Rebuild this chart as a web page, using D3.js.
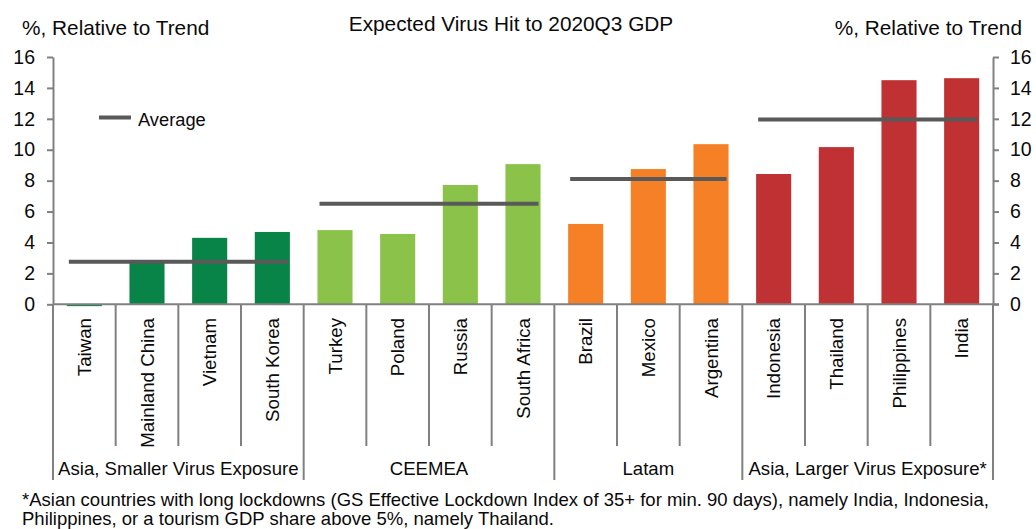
<!DOCTYPE html>
<html>
<head>
<meta charset="utf-8">
<script src="https://cdn.jsdelivr.net/npm/d3@7"></script>
<style>
  html, body { margin: 0; padding: 0; background: #fff; }
  svg { display: block; font-family: "Liberation Sans", Arial, sans-serif; }
</style>
</head>
<body>
<main></main>
<script>
(function () {

    // data
    var countries = ["Taiwan", "Mainland China", "Vietnam", "South Korea",
                     "Turkey", "Poland", "Russia", "South Africa",
                     "Brazil", "Mexico", "Argentina",
                     "Indonesia", "Thailand", "Philippines", "India"];
    var hits = [-0.12, 2.7, 4.3, 4.68, 4.8, 4.55, 7.72, 9.07,
                5.2, 8.75, 10.36, 8.43, 10.17, 14.5, 14.63];
    var groupNames = ["Asia, Smaller Virus Exposure", "CEEMEA", "Latam",
                      "Asia, Larger Virus Exposure*"];
    var groupSizes = [4, 4, 3, 4];
    var groupAverages = [2.75, 6.5, 8.1, 11.95];
    var groupColors = ["#098448", "#8bc34a", "#f58025", "#bf3133"];
    var yTicks = [0, 2, 4, 6, 8, 10, 12, 14, 16];
    var footnote = ["*Asian countries with long lockdowns (GS Effective Lockdown Index of 35+ for min. 90 days), namely India, Indonesia,",
                    "Philippines, or a tourism GDP share above 5%, namely Thailand."];

    var width = 1036, height = 529,
        margin = {top: 57, right: 43, bottom: 224, left: 53};

    var svg = d3.select("main")
            .append("svg")
            .attr("width", width)
            .attr("height", height);

    var axisColor = "#808080",
        ink = "#0a0a0a";

    // which group each country belongs to
    var groupOf = [], starts = [], s = 0;
    groupSizes.forEach(function (n, g) {
        starts.push(s);
        for (var i = 0; i < n; i++) groupOf.push(g);
        s += n;
    });

    var x = d3.scaleBand()
            .domain(countries)
            .range([margin.left, width - margin.right])
            .padding(0),
        y = d3.scaleLinear()
            .domain([0, 16])
            .range([304.3, margin.top]);

    var bw = x.bandwidth() * 0.56;

    // bars
    svg.append("g").selectAll("rect")
        .data(countries)
        .enter().append("rect")
        .attr("x", function (d) { return x(d) + (x.bandwidth() - bw) / 2; })
        .attr("y", function (d, i) { return y(Math.max(0, hits[i])); })
        .attr("width", bw)
        .attr("height", function (d, i) { return Math.abs(y(hits[i]) - y(0)); })
        .attr("fill", function (d, i) { return groupColors[groupOf[i]]; });

    // average lines
    svg.append("g").selectAll("line")
        .data(groupAverages)
        .enter().append("line")
        .attr("x1", function (d, g) { return x(countries[starts[g]]) + x.bandwidth() / 2 - 15.5; })
        .attr("x2", function (d, g) {
            return x(countries[starts[g] + groupSizes[g] - 1]) + x.bandwidth() / 2 + 15.5;
        })
        .attr("y1", function (d) { return y(d); })
        .attr("y2", function (d) { return y(d); })
        .attr("stroke", "#595959")
        .attr("stroke-width", 4);

    // y axes
    var left = svg.append("g")
            .attr("transform", "translate(" + margin.left + ",0)")
            .call(d3.axisLeft(y).tickValues(yTicks).tickSize(6).tickSizeOuter(0).tickPadding(12));
    var right = svg.append("g")
            .attr("transform", "translate(" + (width - margin.right) + ",0)")
            .call(d3.axisRight(y).tickValues(yTicks).tickSize(6).tickSizeOuter(0).tickPadding(11));
    [left, right].forEach(function (a) {
        a.select(".domain").attr("stroke", axisColor).attr("stroke-width", 2);
        a.selectAll(".tick line").attr("stroke", axisColor).attr("stroke-width", 2);
        a.selectAll(".tick text")
            .attr("fill", ink)
            .style("font-size", "19.5px")
            .style("font-family", "'Liberation Sans', Arial, sans-serif");
    });

    // x axis baseline
    svg.append("line")
        .attr("x1", margin.left).attr("x2", width - margin.right + 6)
        .attr("y1", y(0)).attr("y2", y(0))
        .attr("stroke", axisColor).attr("stroke-width", 2);

    // category dividers
    var edges = d3.range(countries.length + 1);
    var groupEdges = [0];
    groupSizes.reduce(function (acc, n) { groupEdges.push(acc + n); return acc + n; }, 0);
    svg.append("g").selectAll("line")
        .data(edges)
        .enter().append("line")
        .attr("x1", function (i) { return margin.left + i * x.step(); })
        .attr("x2", function (i) { return margin.left + i * x.step(); })
        .attr("y1", y(0))
        .attr("y2", function (i) { return groupEdges.indexOf(i) >= 0 ? 480 : 446; })
        .attr("stroke", axisColor)
        .attr("stroke-width", 2);

    // category labels
    svg.append("g").selectAll("text")
        .data(countries)
        .enter().append("text")
        .attr("transform", function (d) {
            return "translate(" + (x(d) + x.bandwidth() / 2) + ",318) rotate(-90)";
        })
        .attr("dy", "0.35em")
        .attr("text-anchor", "end")
        .style("font-size", "18.7px")
        .attr("fill", ink)
        .text(function (d) { return d; });

    // group labels
    svg.append("g").selectAll("text")
        .data(groupNames)
        .enter().append("text")
        .attr("x", function (d, g) {
            return margin.left + (starts[g] + groupSizes[g] / 2) * x.step();
        })
        .attr("y", 475)
        .attr("text-anchor", "middle")
        .style("font-size", "18.6px")
        .attr("fill", ink)
        .text(function (d) { return d; });

    // titles
    svg.append("text")
        .attr("x", 511).attr("y", 31)
        .attr("text-anchor", "middle")
        .style("font-size", "20.8px")
        .attr("fill", ink)
        .text("Expected Virus Hit to 2020Q3 GDP");
    svg.append("text")
        .attr("x", 22).attr("y", 35)
        .style("font-size", "20.8px")
        .attr("fill", ink)
        .text("%, Relative to Trend");
    svg.append("text")
        .attr("x", 1022).attr("y", 35)
        .attr("text-anchor", "end")
        .style("font-size", "20.8px")
        .attr("fill", ink)
        .text("%, Relative to Trend");

    // legend
    svg.append("line")
        .attr("x1", 99).attr("x2", 131)
        .attr("y1", 117.5).attr("y2", 117.5)
        .attr("stroke", "#595959").attr("stroke-width", 4);
    svg.append("text")
        .attr("x", 138).attr("y", 125.5)
        .style("font-size", "18.3px")
        .attr("fill", ink)
        .text("Average");

    // footnote
    svg.append("g").selectAll("text")
        .data(footnote)
        .enter().append("text")
        .attr("x", 22)
        .attr("y", function (d, i) { return 505.8 + i * 19.2; })
        .style("font-size", "18.5px")
        .attr("fill", ink)
        .text(function (d) { return d; });

})();
</script>
</body>
</html>
